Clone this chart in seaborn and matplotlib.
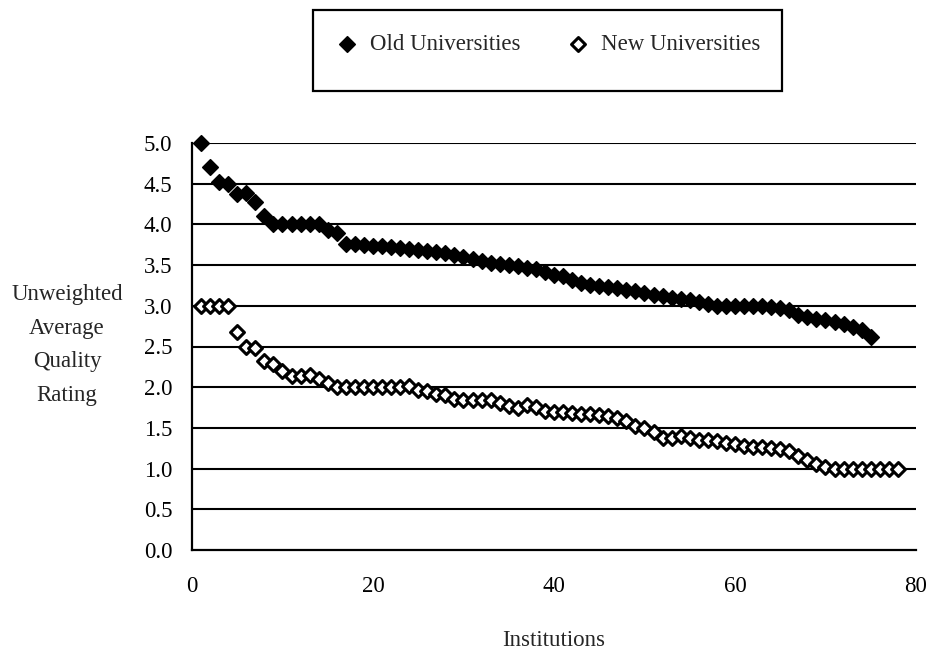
import matplotlib
matplotlib.use("Agg")
import matplotlib.pyplot as plt
import seaborn as sns
import numpy as np
import pandas as pd
from matplotlib.patches import Rectangle

# ---- data ----
old_values = [5.0, 4.7, 4.52, 4.5, 4.37, 4.38, 4.27, 4.1, 4.0, 4.0,
              4.0, 4.0, 4.0, 4.0, 3.93, 3.89, 3.76, 3.76, 3.75, 3.74,
              3.73, 3.72, 3.71, 3.7, 3.69, 3.67, 3.66, 3.65, 3.62, 3.6,
              3.58, 3.55, 3.53, 3.51, 3.5, 3.49, 3.47, 3.45, 3.42, 3.38,
              3.36, 3.32, 3.28, 3.25, 3.24, 3.23, 3.22, 3.2, 3.18, 3.16,
              3.13, 3.12, 3.1, 3.08, 3.07, 3.05, 3.02, 3.0, 3.0, 3.0,
              3.0, 3.0, 3.0, 2.99, 2.97, 2.95, 2.89, 2.86, 2.84, 2.82,
              2.8, 2.78, 2.74, 2.7, 2.62]
new_values = [3.0, 3.0, 3.0, 3.0, 2.68, 2.5, 2.48, 2.32, 2.28, 2.2,
              2.14, 2.14, 2.15, 2.1, 2.05, 2.0, 2.0, 2.0, 2.0, 2.0,
              2.0, 2.0, 2.0, 2.02, 1.97, 1.95, 1.92, 1.9, 1.86, 1.84,
              1.84, 1.84, 1.84, 1.8, 1.77, 1.75, 1.78, 1.76, 1.71, 1.7,
              1.69, 1.68, 1.67, 1.67, 1.66, 1.65, 1.62, 1.58, 1.52, 1.5,
              1.45, 1.37, 1.38, 1.4, 1.37, 1.35, 1.35, 1.34, 1.32, 1.3,
              1.28, 1.27, 1.26, 1.25, 1.24, 1.22, 1.16, 1.1, 1.06, 1.02,
              1.0, 1.0, 1.0, 1.0, 1.0, 1.0, 1.0, 1.0]
old_inst = list(range(1, len(old_values) + 1))
new_inst = list(range(1, len(new_values) + 1))
series_names = ["Old Universities", "New Universities"]
x_ticks = [0, 20, 40, 60, 80]
y_ticks = [0.0, 0.5, 1.0, 1.5, 2.0, 2.5, 3.0, 3.5, 4.0, 4.5, 5.0]
x_label = "Institutions"
y_label = "Unweighted\nAverage\nQuality\nRating"

sns.set_style("white")
plt.rcParams["font.family"] = ["Liberation Serif", "DejaVu Serif"]

FS = 16.5
W, H = 928, 653
fig = plt.figure(figsize=(W / 100, H / 100), dpi=100)
ax = fig.add_axes([192 / W, 1 - 550 / H, (916 - 192) / W, (550 - 143) / H])

df_old = pd.DataFrame({"inst": old_inst, "val": old_values})
df_new = pd.DataFrame({"inst": new_inst, "val": new_values})

sns.scatterplot(data=df_old, x="inst", y="val", ax=ax, marker="D", s=62,
                color="black", edgecolor="black", linewidth=1.2,
                label=series_names[0], clip_on=False, zorder=4)
sns.scatterplot(data=df_new, x="inst", y="val", ax=ax, marker="D", s=50,
                color="white", edgecolor="black", linewidth=2.2,
                label=series_names[1], clip_on=False, zorder=4)

ax.set_xlim(0, 80)
ax.set_ylim(0, 5)
ax.set_xticks(x_ticks)
ax.set_yticks(y_ticks)
ax.set_xticklabels([str(t) for t in x_ticks])
ax.set_yticklabels([f"{t:.1f}" for t in y_ticks])
ax.set_xlabel("")
ax.set_ylabel("")

for yv in y_ticks[1:]:
    ax.axhline(yv, color="black", lw=1.5, zorder=1)

for s in ["top", "right"]:
    ax.spines[s].set_visible(False)
for s in ["left", "bottom"]:
    ax.spines[s].set_color("black")
    ax.spines[s].set_linewidth(1.6)

ax.tick_params(axis="x", direction="inout", length=10, width=1.5,
               colors="black", labelsize=FS, pad=14)
ax.tick_params(axis="y", direction="inout", length=12, width=1.5,
               colors="black", labelsize=FS, pad=8)
ax.grid(False)

# y label (horizontal, multi-line)
fig.text(67 / W, 1 - 345 / H, y_label, ha="center", va="center",
         multialignment="center", fontsize=FS, linespacing=1.78)
# x label
fig.text(554 / W, 1 - 640 / H, x_label, ha="center", va="center",
         fontsize=FS)

# legend
handles, labels = ax.get_legend_handles_labels()
ax.legend_.remove()
fig.legend(handles, labels, loc="center left",
           bbox_to_anchor=(336 / W, 1 - 44 / H), ncol=2, frameon=False,
           fontsize=FS, handlelength=1.0, handletextpad=0.5,
           columnspacing=2.0, borderpad=0, borderaxespad=0,
           markerscale=1.0)
fig.patches.append(Rectangle((313 / W, 1 - 91 / H), (782 - 313) / W,
                             (91 - 10) / H, transform=fig.transFigure,
                             fill=False, edgecolor="black", lw=1.6))

fig.savefig("out.png", dpi=100)
